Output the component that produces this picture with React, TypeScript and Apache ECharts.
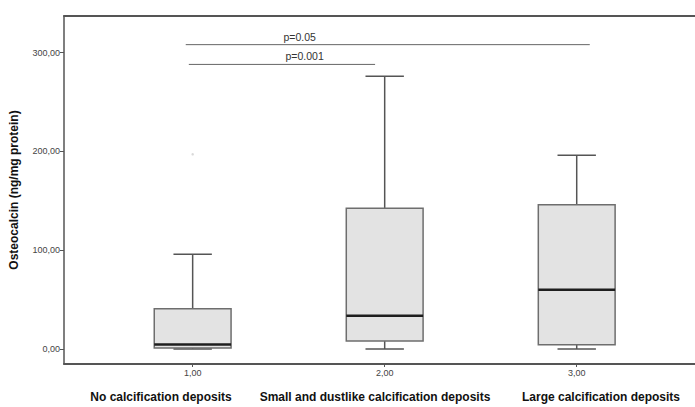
import React, { useEffect, useRef } from "react";
import * as echarts from "echarts";

const groupX = [1, 2, 3];
const categoryNames = [
  "No calcification deposits",
  "Small and dustlike calcification deposits",
  "Large calcification deposits",
];
const lowerWhisker = [0, 0, 0];
const q1 = [1, 8, 4.4];
const median = [4.5, 33.7, 60];
const q3 = [40.8, 142.4, 146];
const upperWhisker = [96, 276, 196];
const outliers = [[1, 197]];
const yTicks = [0, 100, 200, 300];
const xTicks = [1, 2, 3];

const sigLabels = ["p=0.05", "p=0.001"];
const sigFrom = [0.964, 0.98];
const sigTo = [3.068, 1.95];
const sigY = [308, 288];
const sigTextX = [1.557, 1.583];
const sigTextY = [316, 296.4];

const FONT = "'Liberation Sans', Arial, sans-serif";

export default function App() {
  const ref = useRef<HTMLDivElement>(null);
  useEffect(() => {
    if (!ref.current) return;
    const chart = echarts.init(ref.current, undefined, { renderer: "svg" });
    const boxData = groupX.map((x, i) => [x, lowerWhisker[i], q1[i], median[i], q3[i], upperWhisker[i]]);
    const sigData = sigLabels.map((_, i) => [sigFrom[i], sigTo[i], sigY[i], sigTextX[i], sigTextY[i], i]);
    const fmt = (v: number) => v.toFixed(2).replace(".", ",");
    const option: any = {
      animation: false,
      backgroundColor: "#ffffff",
      grid: { left: 64, right: 0, top: 16, bottom: 43, containLabel: false },
      xAxis: [
        {
          type: "value",
          min: 0.33,
          max: 3.616,
          splitLine: { show: false },
          axisLine: { show: true, onZero: false, lineStyle: { color: "#555", width: 2 } },
          axisTick: { show: true, length: 3, customValues: xTicks, lineStyle: { color: "#555" } },
          axisLabel: {
            customValues: xTicks,
            formatter: (v: number) => fmt(v),
            fontSize: 9,
            color: "#444",
            fontFamily: FONT,
            margin: 4,
          },
        },
        {
          type: "value",
          position: "top",
          min: 0.33,
          max: 3.616,
          splitLine: { show: false },
          axisLine: { show: true, onZero: false, lineStyle: { color: "#555", width: 2 } },
          axisTick: { show: false },
          axisLabel: { show: false },
        },
      ],
      yAxis: {
        type: "value",
        min: -15.2,
        max: 337,
        splitLine: { show: false },
        axisLine: { show: true, onZero: false, lineStyle: { color: "#555", width: 1.5 } },
        axisTick: { show: true, length: 4, customValues: yTicks, lineStyle: { color: "#555" } },
        axisLabel: {
          customValues: yTicks,
          formatter: (v: number) => fmt(v),
          fontSize: 9,
          color: "#444",
          fontFamily: FONT,
          margin: 4,
        },
        name: "Osteocalcin (ng/mg protein)",
        nameLocation: "middle",
        nameGap: 44,
        nameTextStyle: { fontSize: 12, fontWeight: "bold", color: "#111", fontFamily: FONT },
      },
      series: [
        {
          type: "custom",
          data: boxData,
          encode: { x: 0, y: [1, 2, 3, 4, 5] },
          renderItem: (params: any, api: any) => {
            const x = api.value(0);
            const lo = api.coord([x, api.value(1)]);
            const b1 = api.coord([x, api.value(2)]);
            const md = api.coord([x, api.value(3)]);
            const b3 = api.coord([x, api.value(4)]);
            const hi = api.coord([x, api.value(5)]);
            const w = api.size([0.4, 0])[0];
            const cw = w / 2;
            const cx = lo[0];
            const ws = { stroke: "#555", lineWidth: 1.5 };
            return {
              type: "group",
              children: [
                { type: "line", shape: { x1: cx, y1: hi[1], x2: cx, y2: b3[1] }, style: ws },
                { type: "line", shape: { x1: cx, y1: lo[1], x2: cx, y2: b1[1] }, style: ws },
                { type: "line", shape: { x1: cx - cw / 2, y1: hi[1], x2: cx + cw / 2, y2: hi[1] }, style: ws },
                { type: "line", shape: { x1: cx - cw / 2, y1: lo[1], x2: cx + cw / 2, y2: lo[1] }, style: ws },
                {
                  type: "rect",
                  shape: { x: cx - w / 2, y: b3[1], width: w, height: b1[1] - b3[1] },
                  style: { fill: "#e3e3e3", stroke: "#6e6e6e", lineWidth: 1.5 },
                },
                {
                  type: "line",
                  shape: { x1: cx - w / 2, y1: md[1], x2: cx + w / 2, y2: md[1] },
                  style: { stroke: "#1e1e1e", lineWidth: 2.5 },
                },
              ],
            };
          },
        },
        {
          type: "scatter",
          data: outliers,
          symbol: "circle",
          symbolSize: 2.5,
          itemStyle: { color: "#d0d0d0" },
        },
        {
          type: "custom",
          data: sigData,
          encode: { x: [0, 1, 3], y: [2, 4] },
          renderItem: (params: any, api: any) => {
            const a = api.coord([api.value(0), api.value(2)]);
            const b = api.coord([api.value(1), api.value(2)]);
            const t = api.coord([api.value(3), api.value(4)]);
            const idx = api.value(5);
            return {
              type: "group",
              children: [
                { type: "line", shape: { x1: a[0], y1: a[1], x2: b[0], y2: b[1] }, style: { stroke: "#666", lineWidth: 1 } },
                {
                  type: "text",
                  x: t[0],
                  y: t[1],
                  style: {
                    text: sigLabels[idx],
                    fill: "#333",
                    fontSize: 10.5,
                    fontFamily: FONT,
                    align: "center",
                    verticalAlign: "middle",
                  },
                },
              ],
            };
          },
        },
      ],
      graphic: categoryNames.map((name, i) => ({
        type: "text",
        x: [161, 375, 601][i],
        y: 397,
        style: {
          text: name,
          fill: "#111",
          fontSize: 12,
          fontWeight: "bold",
          fontFamily: FONT,
          align: "center",
          verticalAlign: "middle",
        },
      })),
    };
    chart.setOption(option);
    return () => chart.dispose();
  }, []);
  return <div ref={ref} style={{ position: "absolute", left: 0, top: 0, width: 695, height: 407 }} />;
}
